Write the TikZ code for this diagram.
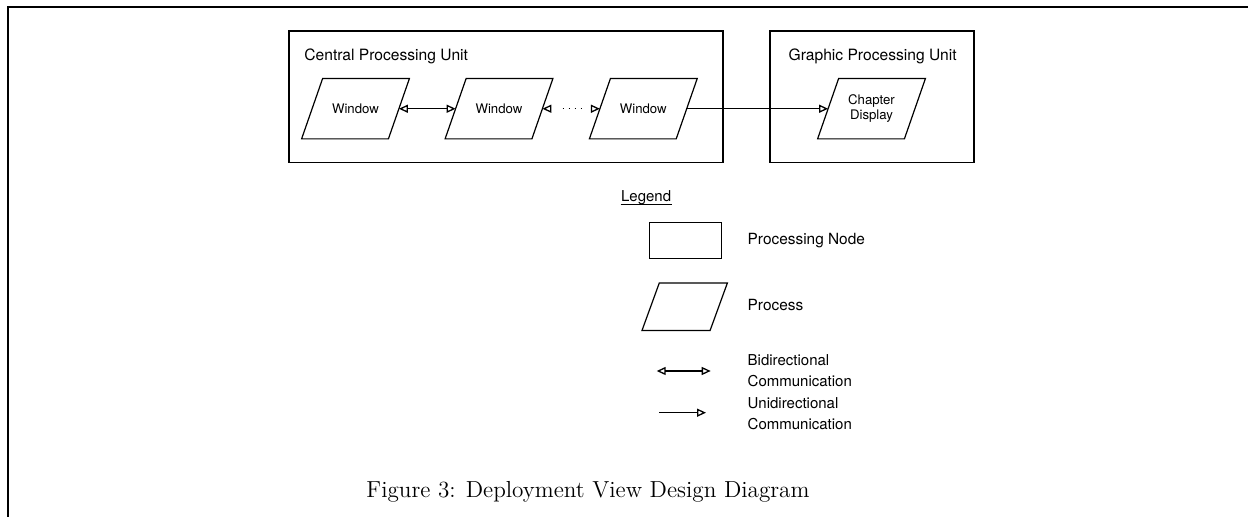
\documentclass[tikz,border=0pt]{standalone}
\usepackage{fontspec}
\setsansfont{TeX Gyre Heros}
\usetikzlibrary{arrows.meta,calc}
\newcommand\drawpgram[2]{%
  \draw[shapeline] ($(#1.south west)+(-#2,0)$) -- ($(#1.north west)+(#2,0)$) --
    ($(#1.north east)+(#2,0)$) -- ($(#1.south east)+(-#2,0)$) -- cycle;}
\begin{document}
\begin{tikzpicture}[x=0.5pt,y=-0.5pt,
  frameline/.style={line width=1.15pt},
  shapeline/.style={line width=0.6pt},
  unitbox/.style={draw, line width=0.6pt, inner sep=0pt},
  proc/.style={inner sep=0pt, minimum width=43pt, minimum height=29.75pt,
    font=\sffamily\fontsize{6.6}{7.75}\selectfont, align=center},
  title/.style={anchor=base west, inner sep=0pt, font=\sffamily\fontsize{7.8}{10}\selectfont},
  legtext/.style={anchor=west, inner sep=0pt, align=left,
    font=\sffamily\fontsize{7.5}{10.35}\selectfont},
  conn/.style={line width=0.65pt},
  uni/.style={conn, arrows={-Triangle[open,length=4.5pt,width=4pt]}},
  bi/.style={conn, arrows={Triangle[open,length=4.5pt,width=4pt]-Triangle[open,length=4.5pt,width=4pt]}},
  dotline/.style={dash pattern=on 0pt off 5.8pt on 0.7pt off 2.3pt on 0.7pt off 2.3pt on 0.7pt off 2.3pt on 0.7pt off 30pt}
]
\useasboundingbox (0,0) rectangle (1248,517);
% outer frame
\draw[frameline] (1250,7) -- (7.8,7) -- (7.8,520);

% processing units
\node[unitbox, minimum width=217pt, minimum height=65.75pt] (cpu) at (506,96.75) {};
\node[unitbox, minimum width=102pt, minimum height=65.75pt] (gpu) at (872,96.75) {};
\node[title] (cput) at (304,60.7) {Central Processing Unit};
\node[title] (gput) at (788.3,60.7) {Graphic Processing Unit};

% processes
\node[proc] (w1) at (355.5,108.75) {Window};
\node[proc] (w2) at (499,108.75) {Window};
\node[proc] (w3) at (643.3,108.75) {Window};
\node[proc] (cd) at (871.5,108.75) {Chapter\\Display};
\foreach \n in {w1,w2,w3,cd} {\drawpgram{\n}{10.5}}

\draw[bi] (w1) -- (w2);
\draw[bi, dotline] (w2) -- (w3);
\draw[uni] (w3) -- (cd);

% legend
\node[title, font=\sffamily\fontsize{7.5}{10}\selectfont] (leg) at (620.7,202) {Legend};
\draw[line width=0.5pt] ([yshift=-1.1pt]leg.base west) -- ([yshift=-1.1pt]leg.base east);

\node[unitbox, minimum width=36.2pt, minimum height=18.2pt] (lrect) at (685.5,240.5) {};
\node[title, font=\sffamily\fontsize{7.7}{10}\selectfont] (lrectt) at (747.3,245) {Processing Node};

\node[inner sep=0pt, minimum width=33.65pt, minimum height=23.35pt] (lproc) at (684.7,306.7) {};
\drawpgram{lproc}{8.65}
\node[title, font=\sffamily\fontsize{7.7}{10}\selectfont] (lproct) at (747.3,310.7) {Process};

\coordinate (b1) at (656.7,371);
\coordinate (b2) at (710.7,371);
\draw[bi] (b1) -- (b2);
\node[legtext] (bt) at (747.3,370.7) {Bidirectional\\Communication};

\coordinate (u1) at (659,412.7);
\coordinate (u2) at (706,412.7);
\draw[uni] (u1) -- (u2);
\node[legtext] (ut) at (747.3,414) {Unidirectional\\Communication};

% caption
\node[anchor=base, inner sep=0pt, font=\fontsize{11.6}{14}\selectfont] (caption) at (588,497.3)
  {Figure 3: Deployment View Design Diagram};
\end{tikzpicture}
\end{document}
